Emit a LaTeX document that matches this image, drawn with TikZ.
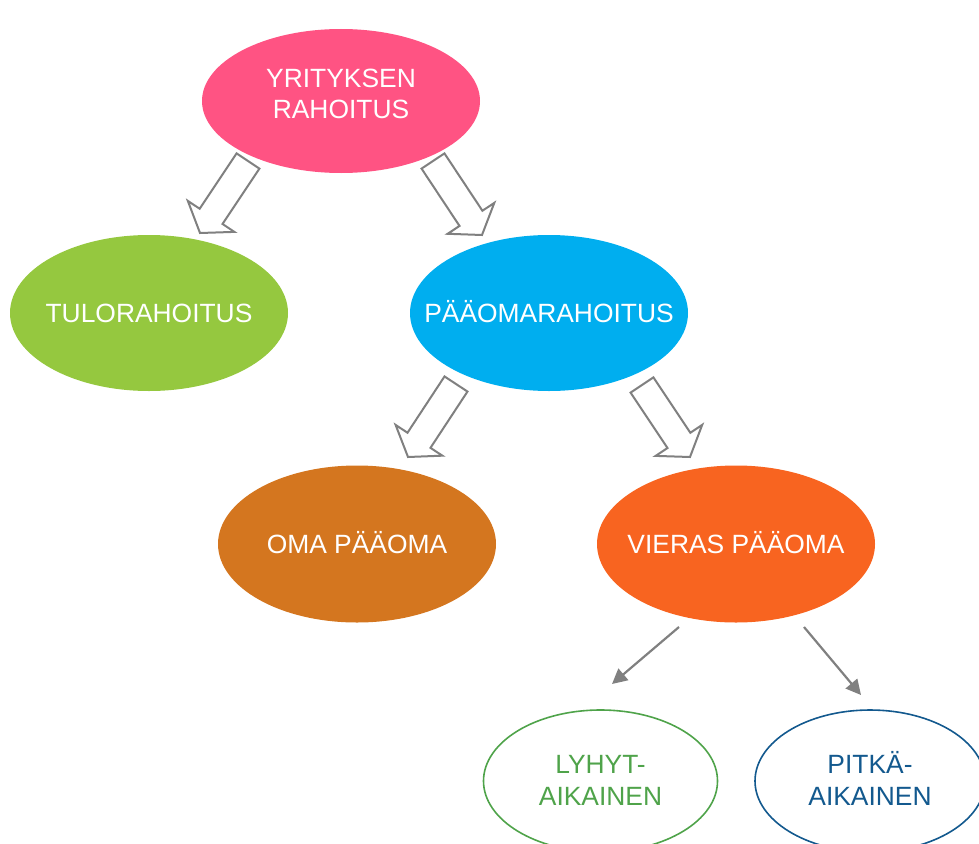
\documentclass[tikz,border=0pt]{standalone}
\usepackage{fontspec}
\setmainfont{Liberation Sans}
\usetikzlibrary{shapes.geometric,calc,arrows.meta}

\definecolor{rosec}{HTML}{FF5383}
\definecolor{limec}{HTML}{95C83F}
\definecolor{skyc}{HTML}{00AEEF}
\definecolor{rustc}{HTML}{D4761F}
\definecolor{tangc}{HTML}{F86420}
\definecolor{leafc}{HTML}{4FA34A}
\definecolor{navyc}{HTML}{13598E}
\definecolor{arrgray}{HTML}{808080}

% text set in a box of no size, so the ellipse keeps its fixed size;
% the optional argument lifts the text above the centre
\newcommand\zbox[2][0pt]{\makebox[0pt]{\raisebox{\dimexpr #1-9.6pt\relax}[0pt][0pt]{%
  \begin{tabular}{@{}c@{}}#2\end{tabular}}}}

\tikzset{
  bubble/.style={ellipse, inner sep=0pt, minimum width=278pt, minimum height=156pt,
    font=\fontsize{26.4}{31.6}\selectfont, text=white},
  ring/.style={ellipse, inner sep=0pt, minimum width=234pt, minimum height=142pt,
    font=\fontsize{26.4}{31.6}\selectfont, line width=1.6pt},
  blockarr/.style={draw=arrgray, line width=2pt, fill=white, line join=miter},
  thinarr/.style={draw=arrgray, line width=2.2pt,
    -{Triangle[length=15pt,width=15pt]}},
}

% hollow block arrow from #1 (tail centre) to #2 (tip)
\newcommand\blockarrow[2]{%
  \coordinate (hb) at ($(#2)!20pt!(#1)$);
  \draw[blockarr]
    ($(#1)!13.75pt!90:(#2)$) -- ($(hb)!13.75pt!90:(#2)$) -- ($(hb)!28pt!90:(#2)$)
    -- (#2)
    -- ($(hb)!28pt!-90:(#2)$) -- ($(hb)!13.75pt!-90:(#2)$) -- ($(#1)!13.75pt!-90:(#2)$)
    -- cycle;
}

\begin{document}
\begin{tikzpicture}[x=1pt,y=-1pt]
  \useasboundingbox (0,0) rectangle (979,843);

  % ellipses
  \node[bubble, fill=rosec, minimum height=144pt] (root) at (341,101)
    {\zbox[7.7pt]{YRITYKSEN\\RAHOITUS}};
  \node[bubble, fill=limec] (tulo) at (149,313) {\zbox{TULORAHOITUS}};
  \node[bubble, fill=skyc] (paaoma) at (549,313) {\zbox{PÄÄOMARAHOITUS}};
  \node[bubble, fill=rustc, minimum height=157pt] (oma) at (357,544) {\zbox{OMA PÄÄOMA}};
  \node[bubble, fill=tangc, minimum height=157pt] (vieras) at (736,544) {\zbox{VIERAS PÄÄOMA}};
  \node[ring, draw=leafc, text=leafc] (lyhyt) at (600.5,781) {\zbox[1.3pt]{LYHYT-\\AIKAINEN}};
  \node[ring, draw=navyc, text=navyc, minimum width=230pt] (pitka) at (870,781) {\zbox[1.3pt]{PITKÄ-\\AIKAINEN}};

  % block arrow ends
  \coordinate (a1t) at (248,161);  \coordinate (a1h) at (200,233);
  \coordinate (a2t) at (433,161);  \coordinate (a2h) at (482,235);
  \coordinate (a3t) at (456,384);  \coordinate (a3h) at (408,457);
  \coordinate (a4t) at (642,385);  \coordinate (a4h) at (690,457);

  \blockarrow{a1t}{a1h}
  \blockarrow{a2t}{a2h}
  \blockarrow{a3t}{a3h}
  \blockarrow{a4t}{a4h}

  % thin arrows below VIERAS PÄÄOMA
  \coordinate (l1s) at (679,627);  \coordinate (l1e) at (612,684);
  \coordinate (l2s) at (804,627);  \coordinate (l2e) at (861,695);
  \draw[thinarr] (l1s) -- (l1e);
  \draw[thinarr] (l2s) -- (l2e);
\end{tikzpicture}
\end{document}
